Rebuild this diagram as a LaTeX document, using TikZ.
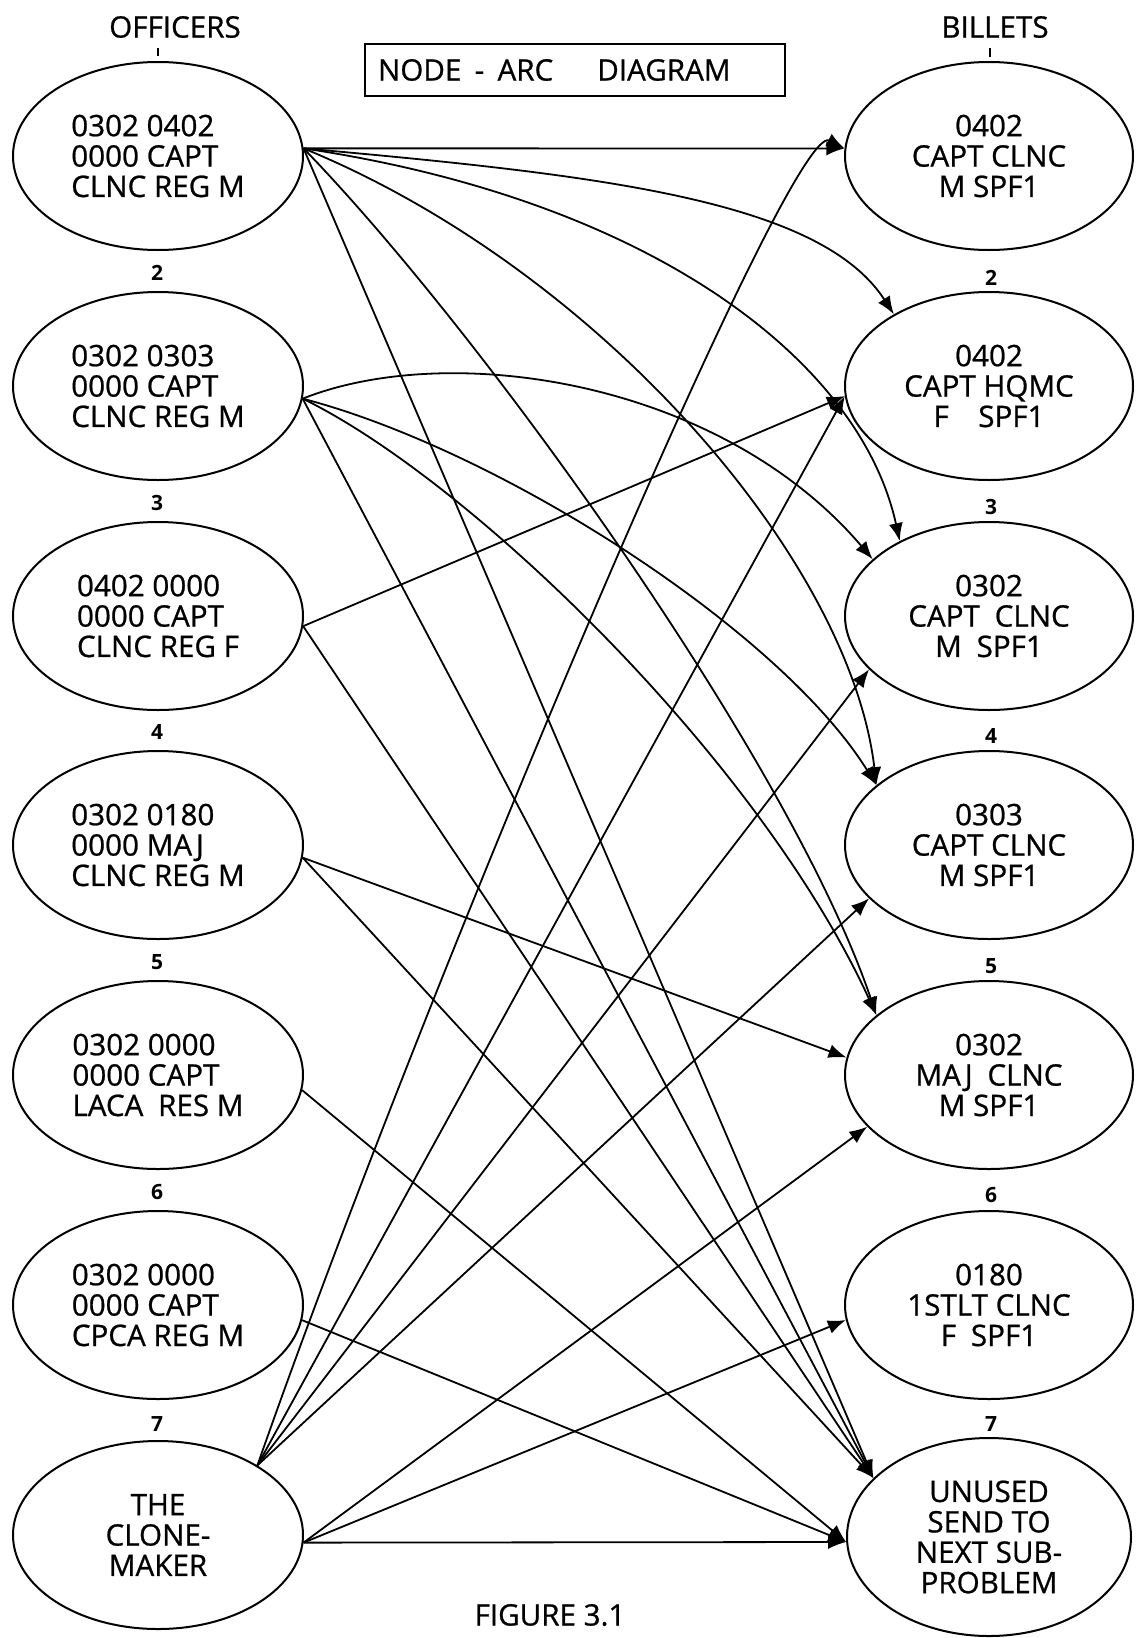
\documentclass[tikz,border=0pt]{standalone}
\usepackage{fontspec}
\setmainfont{Open Sans}[UprightFeatures={FakeBold=0.8}]
\usetikzlibrary{shapes.geometric,arrows.meta}

\begin{document}
\begin{tikzpicture}[x=0.5pt,y=-0.5pt,
  every node/.style={font=\fontsize{14.8}{15.2}\selectfont},
  officer/.style={draw,ellipse,line width=1pt,inner sep=0pt,
    minimum width=145pt,minimum height=94pt,align=left},
  billet/.style={draw,ellipse,line width=1pt,inner sep=0pt,
    minimum width=144pt,minimum height=94pt,align=center},
  numlbl/.style={font=\bfseries\fontsize{10.5}{12}\selectfont,inner sep=0pt},
  hdr/.style={inner sep=0pt},
  arc/.style={line width=0.9pt,-{Latex[length=9pt,width=7pt]}},
  tick/.style={line width=0.9pt},
]
\useasboundingbox (0,0) rectangle (1135,1638);

% headings
\node[hdr] (offhdr) at (175,27) {OFFICERS};
\node[hdr] (bilhdr) at (995,27) {BILLETS};
\node[draw,line width=0.8pt,text width=197pt,align=left,inner xsep=6.5pt,
      inner ysep=0pt,minimum height=26pt] (title) at (575,70)
  {NODE\hspace{0.45em}-\hspace{0.45em}ARC\hspace{22pt}DIAGRAM};
\node[hdr] (fig) at (550,1615) {FIGURE 3.1};
\draw[tick] (158,48) -- (158,56);
\draw[tick] (990,48) -- (990,57);

% officer nodes
\node[officer] (o1) at (158,156)  {0302 0402\\0000 CAPT\\CLNC REG M};
\node[officer] (o2) at (158,386)  {0302 0303\\0000 CAPT\\CLNC REG M};
\node[officer] (o3) at (158,616)  {0402 0000\\0000 CAPT\\CLNC REG F};
\node[officer] (o4) at (158,845)  {0302 0180\\0000 MAJ\\CLNC REG M};
\node[officer] (o5) at (158,1075) {0302 0000\\0000 CAPT\\LACA\enspace RES M};
\node[officer] (o6) at (158,1305) {0302 0000\\0000 CAPT\\CPCA REG M};
\node[officer,align=center] (o7) at (158,1535) {THE\\CLONE-\\MAKER};

% billet nodes
\node[billet] (b1) at (989,156)  {0402\\CAPT CLNC\\M SPF1};
\node[billet] (b2) at (989,386)  {0402\\CAPT HQMC\\F\quad SPF1};
\node[billet] (b3) at (989,616)  {0302\\CAPT\enspace CLNC\\M\enspace SPF1};
\node[billet] (b4) at (989,845)  {0303\\CAPT CLNC\\M SPF1};
\node[billet] (b5) at (989,1075) {0302\\MAJ\enspace CLNC\\M SPF1};
\node[billet] (b6) at (989,1305) {0180\\1STLT CLNC\\F\enspace SPF1};
\node[billet,minimum width=142pt,minimum height=99pt] (b7) at (989,1537)
  {UNUSED\\SEND TO\\NEXT SUB-\\PROBLEM};

% node numbers
\node[numlbl] (on2) at (157,273)  {2};
\node[numlbl] (on3) at (157,503)  {3};
\node[numlbl] (on4) at (157,732)  {4};
\node[numlbl] (on5) at (157,962)  {5};
\node[numlbl] (on6) at (157,1192) {6};
\node[numlbl] (on7) at (157,1424) {7};
\node[numlbl] (bn2) at (991,278)  {2};
\node[numlbl] (bn3) at (991,507)  {3};
\node[numlbl] (bn4) at (991,736)  {4};
\node[numlbl] (bn5) at (991,966)  {5};
\node[numlbl] (bn6) at (991,1195) {6};
\node[numlbl] (bn7) at (991,1424) {7};

% officer 1
\draw[arc] (o1.3) -- (b1.177);
\draw[arc] (o1.3) .. controls (600,175) and (820,200) .. (b2.143);
\draw[arc] (o1.3) .. controls (650,200) and (860,360) .. (b3.140);
\draw[arc] (o1.3) .. controls (600,270) and (850,560) .. (b4.152);
\draw[arc] (o1.3) .. controls (480,330) and (790,760) .. (b5.152);
\draw[arc] (o1.3) -- (b7.153);

% officer 2
\draw[arc] (o2.-5) .. controls (450,340) and (720,380) .. (b3.154);
\draw[arc] (o2.-5) .. controls (500,450) and (780,630) .. (b4.152);
\draw[arc] (o2.-5) .. controls (470,480) and (760,760) .. (b5.152);
\draw[arc] (o2.-5) -- (b7.153);

% officers 3 to 6
\draw[arc] (o3.-4) -- (b2.184);
\draw[arc] (o3.-4) -- (b7.153);
\draw[arc] (o4.-5) -- (b5.173);
\draw[arc] (o4.-5) -- (b7.153);
\draw[arc] (o5.-6) -- (b7.182);
\draw[arc] (o6.-6) -- (b7.182);

% the clone-maker
\draw[arc] (o7.35) .. controls (420,1000) and (790,120) .. (b1.177);
\draw[arc] (o7.35) -- (b2.184);
\draw[arc] (o7.35) -- (b3.204);
\draw[arc] (o7.35) -- (b4.204);
\draw[arc] (o7.-3) -- (b5.203);
\draw[arc] (o7.-3) -- (b6.186);
\draw[arc] (o7.-3) -- (b7.182);
\end{tikzpicture}
\end{document}
